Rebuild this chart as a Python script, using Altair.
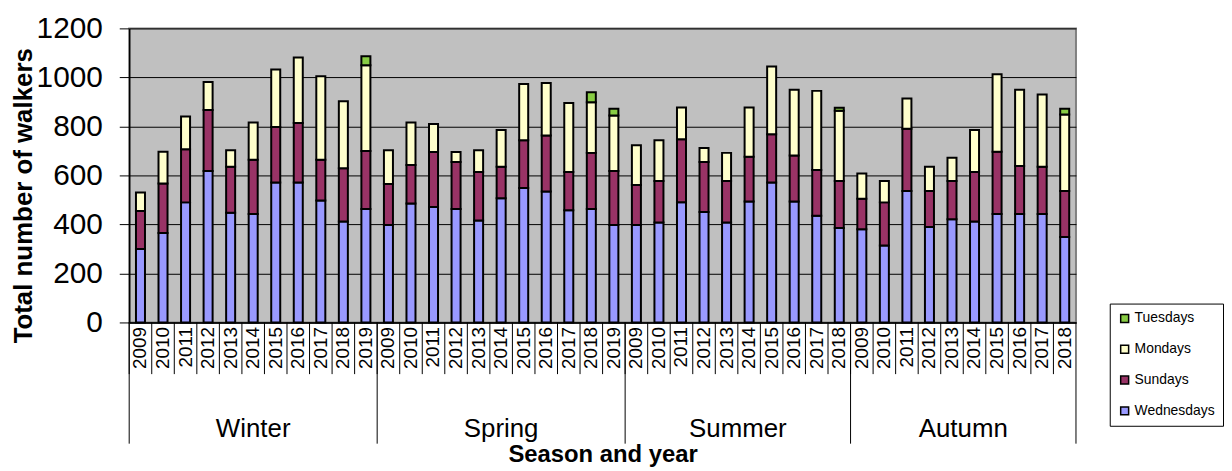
import altair as alt
import pandas as pd

# ---- data ----
season_names = (["Winter"] * 11 + ["Spring"] * 11 + ["Summer"] * 10 + ["Autumn"] * 10)
years = [2009, 2010, 2011, 2012, 2013, 2014, 2015, 2016, 2017, 2018, 2019,
         2009, 2010, 2011, 2012, 2013, 2014, 2015, 2016, 2017, 2018, 2019,
         2009, 2010, 2011, 2012, 2013, 2014, 2015, 2016, 2017, 2018,
         2009, 2010, 2011, 2012, 2013, 2014, 2015, 2016, 2017, 2018]

wednesdays = [300, 365, 490, 618, 448, 443, 571, 571, 498, 412, 463,
              398, 485, 471, 463, 416, 507, 549, 534, 458, 463, 398,
              398, 408, 491, 451, 408, 494, 571, 494, 435, 385,
              380, 314, 536, 390, 421, 412, 443, 443, 443, 349]
sundays = [155, 202, 217, 249, 187, 221, 227, 243, 166, 217, 237,
           167, 158, 225, 192, 198, 128, 195, 229, 156, 229, 220,
           163, 169, 257, 204, 169, 182, 197, 187, 187, 192,
           125, 176, 254, 146, 156, 202, 254, 195, 192, 187]
mondays = [75, 130, 133, 114, 68, 152, 234, 267, 341, 274, 350,
           138, 173, 114, 41, 89, 150, 229, 214, 282, 207, 227,
           162, 167, 129, 57, 115, 201, 276, 269, 323, 287,
           103, 87, 124, 99, 95, 171, 316, 312, 295, 313]
tuesdays = [0, 0, 0, 0, 0, 0, 0, 0, 0, 0, 36,
            0, 0, 0, 0, 0, 0, 0, 0, 0, 40, 27,
            0, 0, 0, 0, 0, 0, 0, 0, 0, 12,
            0, 0, 0, 0, 0, 0, 0, 0, 0, 23]

day_names = ["Wednesdays", "Sundays", "Mondays", "Tuesdays"]
legend_order = ["Tuesdays", "Mondays", "Sundays", "Wednesdays"]
day_colors = ["#88CC44", "#FFFFCC", "#993366", "#9999FF"]
season_order = ["Winter", "Spring", "Summer", "Autumn"]
y_ticks = [0, 200, 400, 600, 800, 1000, 1200]

keys = [f"{s} {y}" for s, y in zip(season_names, years)]

rows = []
for i, k in enumerate(keys):
    for j, (d, arr) in enumerate(zip(day_names, [wednesdays, sundays, mondays, tuesdays])):
        rows.append({"key": k, "day": d, "ord": j, "value": arr[i]})
df = pd.DataFrame(rows)

W, H = 953, 296
FONT = "Liberation Sans"
xscale = alt.Scale(domain=keys, paddingInner=0, paddingOuter=0)
x_axis = alt.Axis(
    labelExpr="split(datum.label, ' ')[1]", labelAngle=-90,
    labelAlign="right", labelBaseline="middle", labelFontSize=19,
    labelPadding=4, ticks=False, domainColor="black", domainWidth=1.5,
    labelColor="black", grid=False, labelOverlap=False,
    title="Season and year", titleFontSize=24, titleFontWeight="bold",
    titleY=121, titleBaseline="top", titleColor="black")

bars = alt.Chart(df).transform_filter("datum.value > 0").mark_bar(
    width=alt.RelativeBandSize(0.4), stroke="black", strokeWidth=2
).encode(
    x=alt.X("key:N", scale=xscale, axis=x_axis),
    y=alt.Y("value:Q", stack="zero", scale=alt.Scale(domain=[0, 1200]),
            axis=alt.Axis(values=y_ticks, format="d",
                          grid=True, gridColor="black", gridWidth=1,
                          tickColor="black", tickSize=10, labelFontSize=30,
                          labelPadding=17, labelColor="black",
                          domainColor="black", domainWidth=1.5,
                          title="Total number of walkers", titleFontSize=26,
                          titleFontWeight="bold", titleX=-106, titleY=168,
                          titleBaseline="middle", titleColor="black")),
    color=alt.Color("day:N", scale=alt.Scale(domain=legend_order, range=day_colors),
                    legend=alt.Legend(orient="none", legendX=987, legendY=277,
                                      title=None, strokeColor="black",
                                      fillColor="white", padding=8,
                                      rowPadding=17, symbolType="square",
                                      symbolSize=64, symbolStrokeColor="black",
                                      symbolStrokeWidth=1.5, labelFontSize=14,
                                      labelFont=FONT, labelOffset=3,
                                      labelColor="black")),
    order=alt.Order("ord:Q", sort="ascending"),
)

key_df = pd.DataFrame({"key": keys})
year_rules = alt.Chart(key_df).mark_rule(color="black", strokeWidth=1).encode(
    x=alt.X("key:N", scale=xscale, bandPosition=0, axis=x_axis),
    y=alt.value(H), y2=alt.value(H + 52),
)

first_keys = [keys[season_names.index(s)] for s in season_order]
sep_df = pd.DataFrame({"key": first_keys})
season_rules = alt.Chart(sep_df).mark_rule(color="black", strokeWidth=1).encode(
    x=alt.X("key:N", scale=xscale, bandPosition=0, axis=x_axis),
    y=alt.value(H), y2=alt.value(H + 122),
)
end_rule = alt.Chart(pd.DataFrame({"key": [keys[-1]]})).mark_rule(
    color="black", strokeWidth=1).encode(
    x=alt.X("key:N", scale=xscale, bandPosition=1, axis=x_axis),
    y=alt.value(H), y2=alt.value(H + 122),
)

# season labels: odd-length seasons centre on a band centre, even on a band edge
odd_df = pd.DataFrame({"key": ["Winter 2014", "Spring 2014"], "season": ["Winter", "Spring"]})
even_df = pd.DataFrame({"key": ["Summer 2014", "Autumn 2014"], "season": ["Summer", "Autumn"]})
txt_odd = alt.Chart(odd_df).mark_text(fontSize=26, font=FONT, color="black", baseline="middle").encode(
    x=alt.X("key:N", scale=xscale, bandPosition=0.5, axis=x_axis),
    y=alt.value(H + 107), text="season:N",
)
txt_even = alt.Chart(even_df).mark_text(fontSize=26, font=FONT, color="black", baseline="middle").encode(
    x=alt.X("key:N", scale=xscale, bandPosition=0, axis=x_axis),
    y=alt.value(H + 107), text="season:N",
)

chart = alt.layer(bars, year_rules, season_rules, end_rule, txt_odd, txt_even).properties(
    width=W, height=H,
    padding={"left": 122, "top": 19, "right": 149, "bottom": 148},
    autosize=alt.AutoSizeParams(type="none"),
    background="white",
).configure_view(
    fill="#C0C0C0", stroke="#808080", strokeWidth=2
).configure_axis(
    labelFont=FONT, titleFont=FONT
)

chart.save("out.html", embed_options={"renderer": "svg", "actions": False})
